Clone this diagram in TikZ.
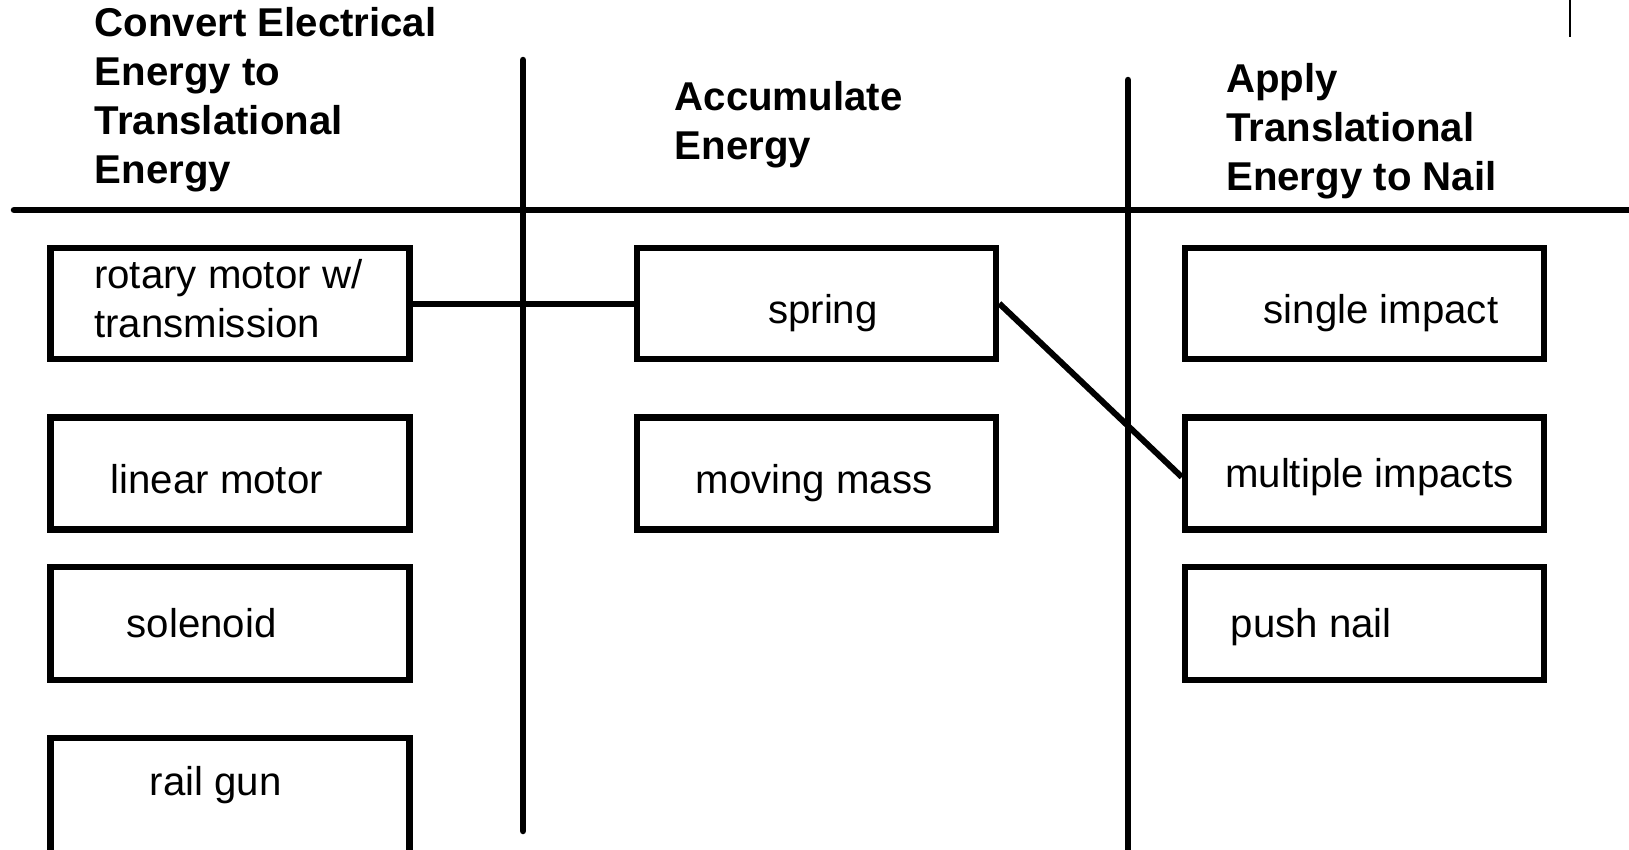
\documentclass[tikz,border=0pt]{standalone}
\usepackage{fontspec}
\setmainfont{Liberation Sans}
\begin{document}
\begin{tikzpicture}[x=1pt,y=-1pt,
  box/.style={draw, line width=6.5pt, minimum width=359pt, inner sep=0pt},
  lbl/.style={anchor=base west, inner sep=0pt, font=\fontsize{40.2}{48.5}\selectfont},
  ttl/.style={anchor=base west, inner sep=0pt, align=left, font=\fontsize{40.2}{49}\selectfont\bfseries},
  divider/.style={line width=6.5pt, line cap=round},
  link/.style={line width=6pt}]
\useasboundingbox (0,0) rectangle (1629,849);
\clip (0,0) rectangle (1629,849);
\fill[white] (0,0) rectangle (1629,849);

% headings (anchor at baseline of last line)
\node[ttl] (h1) at (94.5,183) {Convert Electrical\\Energy to\\Translational\\Energy};
\node[ttl] (h2) at (674.5,159) {Accumulate\\Energy};
\node[ttl] (h3) at (1226,190) {Apply\\Translational\\Energy to Nail};

% dividers
\draw[divider] (14,210) -- (1640,210);
\draw[divider] (523,60) -- (523,831);
\draw[divider] (1128,80) -- (1128,870);
\draw[line width=2.2pt] (1570,-5) -- (1570,37);

% left column
\node[box, minimum height=111pt] (rotary) at (230,303.5) {};
\node[box, minimum height=112pt] (linear) at (230,473.5) {};
\node[box, minimum height=113pt] (solenoid) at (230,623.5) {};
\node[box, minimum height=140pt] (railgun) at (230,808) {};

% middle column
\node[box, minimum height=111pt] (spring) at (816.5,303.5) {};
\node[box, minimum height=112pt] (mass) at (816.5,473.5) {};

% right column
\node[box, minimum height=111pt] (single) at (1364.5,303.5) {};
\node[box, minimum height=112pt] (multi) at (1364.5,473.5) {};
\node[box, minimum height=113pt] (push) at (1364.5,623.5) {};

% box texts
\node[lbl, align=left] (trotary) at (94,337) {rotary motor w/\\transmission};
\node[lbl] (tlinear) at (110.5,493) {linear motor};
\node[lbl] (tsolenoid) at (126.5,637.5) {solenoid};
\node[lbl] (trailgun) at (149.5,795) {rail gun};
\node[lbl] (tspring) at (768,323) {spring};
\node[lbl] (tmass) at (695.5,493) {moving mass};
\node[lbl] (tsingle) at (1263.5,323) {single impact};
\node[lbl] (tmulti) at (1225,487) {multiple impacts};
\node[lbl] (tpush) at (1230.5,637) {push nail};

% connectors
\draw[link] (rotary.east) -- (spring.west);
\draw[link] (spring.east) -- ([yshift=-3.5pt]multi.west);
\end{tikzpicture}
\end{document}
